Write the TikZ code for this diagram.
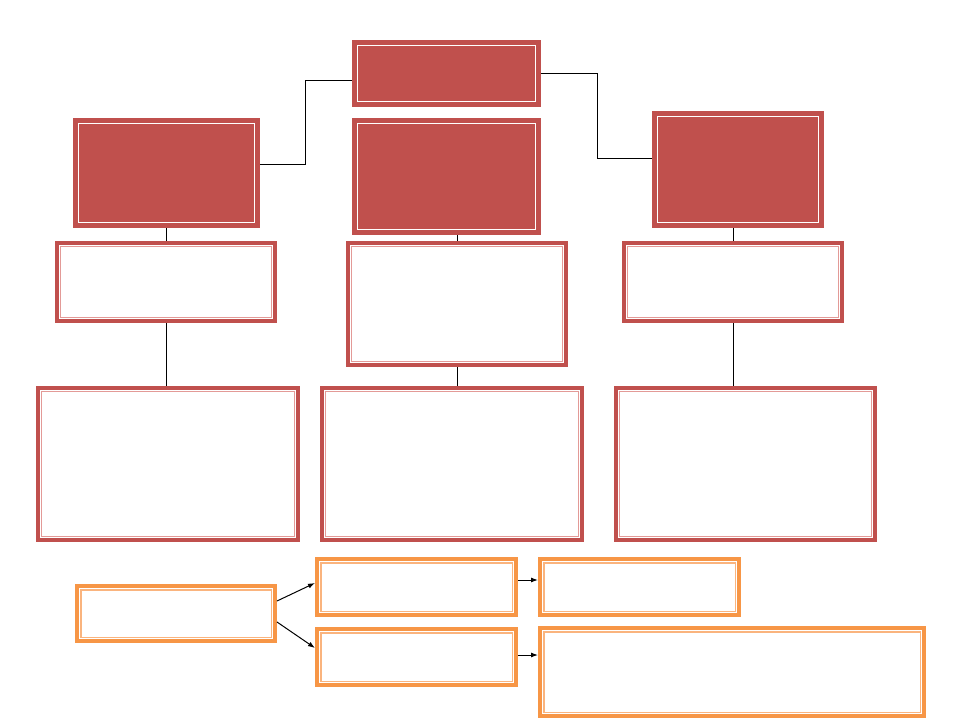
\documentclass[tikz,border=0pt]{standalone}
\usetikzlibrary{arrows.meta}
\definecolor{boxred}{HTML}{C0504D}
\definecolor{pinkline}{HTML}{E39A97}
\definecolor{boxorange}{HTML}{F79646}
\definecolor{lightorange}{HTML}{FAB47E}
\tikzset{
  redfill/.style={draw=boxred, fill=boxred, line width=4pt, rectangle, inner sep=0pt,
    path picture={\draw[white, line width=1.5pt]
      ([shift={(3.4pt,-3.4pt)}]path picture bounding box.north west) rectangle
      ([shift={(-3.4pt,3.4pt)}]path picture bounding box.south east);}},
  redwhite/.style={draw=boxred, fill=white, line width=4pt, rectangle, inner sep=0pt,
    path picture={\draw[pinkline, line width=1.4pt]
      ([shift={(3.6pt,-3.6pt)}]path picture bounding box.north west) rectangle
      ([shift={(-3.6pt,3.6pt)}]path picture bounding box.south east);}},
  orangebox/.style={draw=boxorange, fill=white, line width=4pt, rectangle, inner sep=0pt,
    path picture={\draw[lightorange, line width=1.4pt]
      ([shift={(3.8pt,-3.8pt)}]path picture bounding box.north west) rectangle
      ([shift={(-3.8pt,3.8pt)}]path picture bounding box.south east);}},
  conn/.style={draw=black, line width=1pt},
  arr/.style={draw=black, line width=1pt, -{Latex[length=7pt,width=5pt]}},
}
\begin{document}
\begin{tikzpicture}[x=1pt, y=-1pt]
\useasboundingbox[fill=white] (0,0) rectangle (960,720);
% red filled boxes
\node[redfill, minimum width=185pt, minimum height=63pt] (T) at (446.5,73.5) {};
\node[redfill, minimum width=183pt, minimum height=106pt] (L1) at (166.5,173) {};
\node[redfill, minimum width=185pt, minimum height=113pt] (M1) at (446.5,176.5) {};
\node[redfill, minimum width=168pt, minimum height=113pt] (R1) at (738,169.5) {};
% red outlined boxes
\node[redwhite, minimum width=218pt, minimum height=78pt] (L2) at (166,282) {};
\node[redwhite, minimum width=218pt, minimum height=122pt] (M2) at (457,304) {};
\node[redwhite, minimum width=218pt, minimum height=78pt] (R2) at (733,282) {};
\node[redwhite, minimum width=260pt, minimum height=152pt] (L3) at (168,464) {};
\node[redwhite, minimum width=260pt, minimum height=152pt] (M3) at (452,464) {};
\node[redwhite, minimum width=259pt, minimum height=152pt] (R3) at (745.5,464) {};
% orange boxes
\node[orangebox, minimum width=198pt, minimum height=55pt] (O1) at (176,613.5) {};
\node[orangebox, minimum width=199pt, minimum height=56pt] (O2) at (416.5,587) {};
\node[orangebox, minimum width=199pt, minimum height=56pt] (O3) at (639.5,587) {};
\node[orangebox, minimum width=199pt, minimum height=56pt] (O4) at (416.5,657) {};
\node[orangebox, minimum width=384pt, minimum height=88pt] (O5) at (732,672) {};
% connectors
\draw[conn] ([yshift=-6.5pt]T.west) -- ++(-47,0) |- ([yshift=9pt]L1.east);
\draw[conn] (T.east) -- ++(56,0) |- ([yshift=11.5pt]R1.west);
\draw[conn] (L2.north -| L1.south) -- (L1.south);
\draw[conn] (L2.south) -- (L2.south |- L3.north);
\draw[conn] (M2.north) -- (M2.north |- M1.south);
\draw[conn] (M2.south) -- (M2.south |- M3.north);
\draw[conn] (R2.north) -- (R2.north |- R1.south);
\draw[conn] (R2.south) -- (R2.south |- R3.north);
% arrows
\coordinate (a4) at ([yshift=2pt]O4.east);
\draw[arr] ([yshift=12.5pt]O1.east) -- ([yshift=4pt]O2.west);
\draw[arr] ([yshift=-8.5pt]O1.east) -- ([yshift=9pt]O4.west);
\draw[arr] ([yshift=7pt]O2.east) -- ([yshift=7pt]O3.west);
\draw[arr] (a4) -- (O5.west |- a4);
\end{tikzpicture}
\end{document}
